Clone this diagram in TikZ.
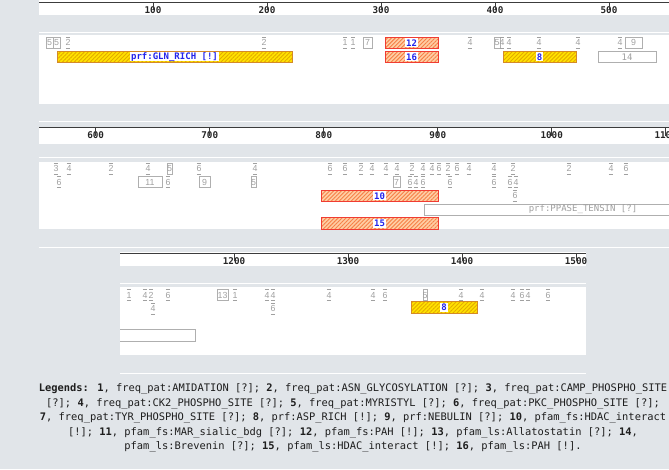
\documentclass[tikz,border=0pt]{standalone}
\usepackage{fontspec}
\newfontfamily\lgmono{DejaVu Sans Mono}
\newfontfamily\mksf{Liberation Sans}
\usetikzlibrary{patterns.meta}
\definecolor{bg}{RGB}{225,229,233}
\definecolor{axisc}{RGB}{60,60,60}
\definecolor{mkgray}{RGB}{160,160,160}
\definecolor{bxgray}{RGB}{175,175,175}
\definecolor{yel}{RGB}{255,226,0}
\definecolor{yelh}{RGB}{228,170,0}
\definecolor{yelb}{RGB}{212,138,40}
\definecolor{org}{RGB}{255,206,165}
\definecolor{orgh}{RGB}{246,128,70}
\definecolor{orgb}{RGB}{240,60,50}
\definecolor{lblue}{RGB}{35,35,235}
\definecolor{lgtext}{RGB}{30,30,30}
\newcounter{mkc}
\tikzset{
 axisline/.style={draw=axisc, line width=1pt},
 ticklbl/.style={font=\lgmono\bfseries\fontsize{9.3}{9.3}\selectfont, text=black!85, inner sep=0pt},
 mkbar/.style={draw=mkgray, line width=0.75pt},
 bxline/.style={draw=bxgray, line width=0.7pt},
 mktext/.style={font=\mksf\fontsize{8.8}{8.8}\selectfont, text=mkgray, inner sep=0pt},
 domlbl/.style={font=\lgmono\bfseries\fontsize{9}{9}\selectfont, text=lblue, fill=white, inner xsep=1pt, inner ysep=0pt, minimum height=9pt},
 graylbl/.style={font=\lgmono\fontsize{9}{9}\selectfont, text=mkgray, inner sep=0pt},
 legend/.style={font=\lgmono\fontsize{10.4}{12}\selectfont, text=lgtext, inner sep=0pt, anchor=center},
}
\newcommand\mk[3]{%
 \draw[mkbar] (#1-2.2,#2) -- (#1+2.2,#2) (#1-2.2,#2+11) -- (#1+2.2,#2+11);
 \stepcounter{mkc}\node[mktext] (mk\arabic{mkc}) at (#1,#2+5.6) {#3};}
\newcommand\bx[4]{%
 \draw[bxline] (#1,#3) rectangle (#2,#3+11);
 \stepcounter{mkc}\node[mktext] (mk\arabic{mkc}) at ({(#1+#2)/2},#3+5.6) {#4};}
\newcommand\ydom[5]{% x1 x2 ytop label name
 \fill[yel] (#1,#3) rectangle (#2,#3+11.5);
 \fill[pattern={Lines[angle=45,distance=2.8pt,line width=0.9pt]}, pattern color=yelh] (#1,#3) rectangle (#2,#3+11.5);
 \draw[draw=yelb, line width=0.9pt] (#1,#3) rectangle (#2,#3+11.5);
 \node[domlbl] (#5) at ({(#1+#2)/2},#3+5.75) {#4};}
\newcommand\odom[5]{%
 \fill[org] (#1,#3) rectangle (#2,#3+11.5);
 \fill[pattern={Lines[angle=45,distance=2.8pt,line width=0.9pt]}, pattern color=orgh] (#1,#3) rectangle (#2,#3+11.5);
 \draw[draw=orgb, line width=0.9pt] (#1,#3) rectangle (#2,#3+11.5);
 \node[domlbl] (#5) at ({(#1+#2)/2},#3+5.75) {#4};}
\newcommand\tick[4]{% x axisy label name
 \node[ticklbl] (#4) at (#1,#2+8) {#3};
 \draw[axisline, line width=0.8pt] (#1,#2) -- (#1,#2+8);}
\begin{document}
\begin{tikzpicture}[x=1pt,y=-1pt]
\useasboundingbox (0,0) rectangle (669,469);
\fill[bg] (0,0) rectangle (669,469);
% ---------- panel 1
\fill[white] (39,0) rectangle (669,15);
\fill[white] (39,32) rectangle (669,33.3);
\fill[white] (39,35) rectangle (669,104);
\begin{scope}
\clip (39,0) rectangle (669,104);
\draw[axisline] (39,2) -- (669,2);
\tick{153}{2}{100}{t100}
\tick{267}{2}{200}{t200}
\tick{381}{2}{300}{t300}
\tick{495}{2}{400}{t400}
\tick{609}{2}{500}{t500}
\bx{46}{53}{37}{5}
\bx{53}{60}{37}{5}
\mk{68}{37}{2}
\mk{264}{37}{2}
\mk{345}{37}{1}
\mk{353}{37}{1}
\bx{363}{372}{37}{7}
\mk{470}{37}{4}
\bx{494}{500}{37}{5}
\mk{502}{37}{4}
\mk{509}{37}{4}
\mk{539}{37}{4}
\mk{578}{37}{4}
\mk{620}{37}{4}
\bx{625}{642}{37}{9}
\odom{385}{438}{37}{12}{d12}
\ydom{57}{292}{51}{prf:GLN\_RICH [!]}{dgln}
\odom{385}{438}{51}{16}{d16}
\ydom{503}{576}{51}{8}{d8a}
\draw[bxline] (598,51) rectangle (656,62.5);
\node[graylbl] (d14) at (627,56.8) {14};
\end{scope}
% ---------- panel 2
\fill[white] (39,120.5) rectangle (669,121.8);
\fill[white] (39,127) rectangle (669,144);
\fill[white] (39,156.5) rectangle (669,157.8);
\fill[white] (39,162) rectangle (669,229);
\begin{scope}
\clip (39,121) rectangle (669,229);
\draw[axisline] (39,127.5) -- (669,127.5);
\tick{95.7}{127.5}{600}{t600}
\tick{209.7}{127.5}{700}{t700}
\tick{323.7}{127.5}{800}{t800}
\tick{437.7}{127.5}{900}{t900}
\tick{551.7}{127.5}{1000}{t1000}
\tick{665.7}{127.5}{1100}{t1100}
% row 1
\mk{56}{163}{3}
\mk{69}{163}{4}
\mk{111}{163}{2}
\mk{148}{163}{4}
\bx{167}{172}{163}{5}
\mk{199}{163}{6}
\mk{255}{163}{4}
\mk{330}{163}{6}
\mk{345}{163}{6}
\mk{361}{163}{2}
\mk{372}{163}{4}
\mk{386}{163}{4}
\mk{397}{163}{4}
\mk{412}{163}{2}
\mk{423}{163}{4}
\mk{432}{163}{4}
\mk{439}{163}{6}
\mk{448}{163}{2}
\mk{457}{163}{6}
\mk{469}{163}{4}
\mk{494}{163}{4}
\mk{513}{163}{2}
\mk{569}{163}{2}
\mk{611}{163}{4}
\mk{626}{163}{6}
% row 2
\mk{59}{176.5}{6}
\bx{138}{162}{176.5}{11}
\mk{168}{176.5}{6}
\bx{199}{210}{176.5}{9}
\bx{251}{256}{176.5}{5}
\bx{393}{400}{176.5}{7}
\mk{410}{176.5}{6}
\mk{416}{176.5}{4}
\mk{423}{176.5}{6}
\mk{450}{176.5}{6}
\mk{494}{176.5}{6}
\mk{510}{176.5}{6}
\mk{516}{176.5}{4}
% row 3
\odom{321}{438}{190}{10}{d10}
\mk{515}{190}{6}
% row 4
\draw[bxline] (424,204) rectangle (700,215);
\node[graylbl] (dppase) at (583,209.5) {prf:PPASE\_TENSIN [?]};
% row 5
\odom{321}{438}{217.5}{15}{d15}
\end{scope}
% ---------- panel 3
\fill[white] (39,246.5) rectangle (669,247.8);
\fill[white] (120,252) rectangle (586,266);
\fill[white] (120,282.5) rectangle (586,283.8);
\fill[white] (120,287) rectangle (586,355);
\begin{scope}
\clip (120,250) rectangle (586,356);
\draw[axisline] (120,253) -- (586,253);
\tick{234}{253}{1200}{t1200}
\tick{348}{253}{1300}{t1300}
\tick{462}{253}{1400}{t1400}
\tick{576}{253}{1500}{t1500}
\mk{129}{289.5}{1}
\mk{145}{289.5}{4}
\mk{151}{289.5}{2}
\mk{168}{289.5}{6}
\bx{217}{228}{289.5}{13}
\mk{235}{289.5}{1}
\mk{267}{289.5}{4}
\mk{273}{289.5}{4}
\mk{329}{289.5}{4}
\mk{373}{289.5}{4}
\mk{385}{289.5}{6}
\bx{423}{427}{289.5}{5}
\mk{461}{289.5}{4}
\mk{482}{289.5}{4}
\mk{513}{289.5}{4}
\mk{522}{289.5}{6}
\mk{528}{289.5}{4}
\mk{548}{289.5}{6}
\mk{153}{303}{4}
\mk{273}{303}{6}
\ydom{411}{477}{301.5}{8}{d8b}
\draw[bxline] (100,329.5) rectangle (195,341);
\end{scope}
% ---------- legend
\fill[white] (120,372.5) rectangle (586,373.8);
\node[legend] (lg1) at (353,389) {\textbf{Legends:} \textbf{1}, freq\_pat:AMIDATION [?]; \textbf{2}, freq\_pat:ASN\_GLYCOSYLATION [?]; \textbf{3}, freq\_pat:CAMP\_PHOSPHO\_SITE};
\node[legend] (lg2) at (353,403.5) {[?]; \textbf{4}, freq\_pat:CK2\_PHOSPHO\_SITE [?]; \textbf{5}, freq\_pat:MYRISTYL [?]; \textbf{6}, freq\_pat:PKC\_PHOSPHO\_SITE [?];};
\node[legend] (lg3) at (353,418) {\textbf{7}, freq\_pat:TYR\_PHOSPHO\_SITE [?]; \textbf{8}, prf:ASP\_RICH [!]; \textbf{9}, prf:NEBULIN [?]; \textbf{10}, pfam\_fs:HDAC\_interact};
\node[legend] (lg4) at (353,432.5) {[!]; \textbf{11}, pfam\_fs:MAR\_sialic\_bdg [?]; \textbf{12}, pfam\_fs:PAH [!]; \textbf{13}, pfam\_ls:Allatostatin [?]; \textbf{14},};
\node[legend] (lg5) at (353,447) {pfam\_ls:Brevenin [?]; \textbf{15}, pfam\_ls:HDAC\_interact [!]; \textbf{16}, pfam\_ls:PAH [!].};
\end{tikzpicture}
\end{document}
